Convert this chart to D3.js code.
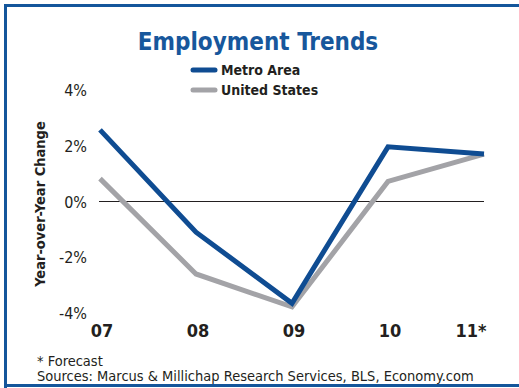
<!DOCTYPE html>
<html>
<head>
<meta charset="utf-8">
<script src="https://cdn.jsdelivr.net/npm/d3@7"></script>
<style>
  body { margin: 0; background: #fff; }
  svg { display: block; font-family: "DejaVu Sans Condensed", "DejaVu Sans", sans-serif; }
</style>
</head>
<body>
<svg id="chart" width="519" height="388"></svg>
<script>
// data
var years = ["07", "08", "09", "10", "11*"];
var metro = [2.57, -1.1, -3.65, 1.96, 1.7];
var us = [0.82, -2.6, -3.78, 0.72, 1.7];
var yTicks = [4, 2, 0, -2, -4];

var width = 519, height = 388;
var svg = d3.select("#chart");

// frame
svg.append("path")
  .attr("d", "M5.5,390 L5.5,5.5 L525,5.5 M5.5,385.5 L525,385.5")
  .attr("fill", "none")
  .attr("stroke", "#14569b")
  .attr("stroke-width", 3);

svg.append("text")
  .attr("x", 258).attr("y", 50)
  .attr("text-anchor", "middle")
  .attr("fill", "#17579c")
  .style("font-size", "24px")
  .style("font-weight", "bold")
  .text("Employment Trends");

// legend
var legend = [{name: "Metro Area", color: "#0f4c92"}, {name: "United States", color: "#a3a3a7"}];
var lg = svg.selectAll(".leg").data(legend).enter().append("g")
  .attr("transform", function(d, i) { return "translate(193," + (70 + i * 20) + ")"; });
lg.append("line")
  .attr("x1", 0).attr("x2", 22)
  .attr("stroke", function(d) { return d.color; })
  .attr("stroke-width", 5)
  .attr("stroke-linecap", "round");
lg.append("text")
  .attr("x", 28).attr("y", 5)
  .attr("fill", "#231f20")
  .style("font-size", "14px")
  .style("font-weight", "bold")
  .text(function(d) { return d.name; });

var xScale = d3.scalePoint().domain(years).range([100, 484]);
var yScale = d3.scaleLinear().domain([-4, 4]).range([313, 90]);

// y tick labels
svg.selectAll(".ytick").data(yTicks).enter().append("text")
  .attr("x", 87)
  .attr("y", function(d) { return yScale(d) + 6; })
  .attr("text-anchor", "end")
  .attr("fill", "#231f20")
  .style("font-size", "16px")
  .text(function(d) { return d + "%"; });

// x labels
svg.selectAll(".xtick").data(years).enter().append("text")
  .attr("x", function(d) { return xScale(d) + (d.indexOf("*") > 0 ? -13 : 2); })
  .attr("y", 337)
  .attr("text-anchor", "middle")
  .attr("fill", "#231f20")
  .style("font-size", "18px")
  .style("font-weight", "bold")
  .text(function(d) { return d; });

svg.append("text")
  .attr("transform", "translate(45,204)rotate(-90)")
  .attr("text-anchor", "middle")
  .attr("fill", "#231f20")
  .style("font-size", "14.5px")
  .style("font-weight", "bold")
  .text("Year-over-Year Change");

// zero line
svg.append("line")
  .attr("x1", 99).attr("x2", 484)
  .attr("y1", yScale(0)).attr("y2", yScale(0))
  .attr("stroke", "#231f20")
  .attr("stroke-width", 1);

var line = d3.line()
  .x(function(d, i) { return xScale(years[i]); })
  .y(function(d) { return yScale(d); });

svg.append("path").datum(us)
  .attr("d", line)
  .attr("fill", "none")
  .attr("stroke", "#a3a3a7")
  .attr("stroke-width", 5);
svg.append("path").datum(metro)
  .attr("d", line)
  .attr("fill", "none")
  .attr("stroke", "#0f4c92")
  .attr("stroke-width", 5);

svg.append("text")
  .attr("x", 37).attr("y", 366)
  .attr("fill", "#231f20")
  .style("font-size", "14.5px")
  .text("* Forecast");
svg.append("text")
  .attr("x", 37).attr("y", 381)
  .attr("fill", "#231f20")
  .style("font-size", "14.5px")
  .text("Sources: Marcus & Millichap Research Services, BLS, Economy.com");
</script>
</body>
</html>
